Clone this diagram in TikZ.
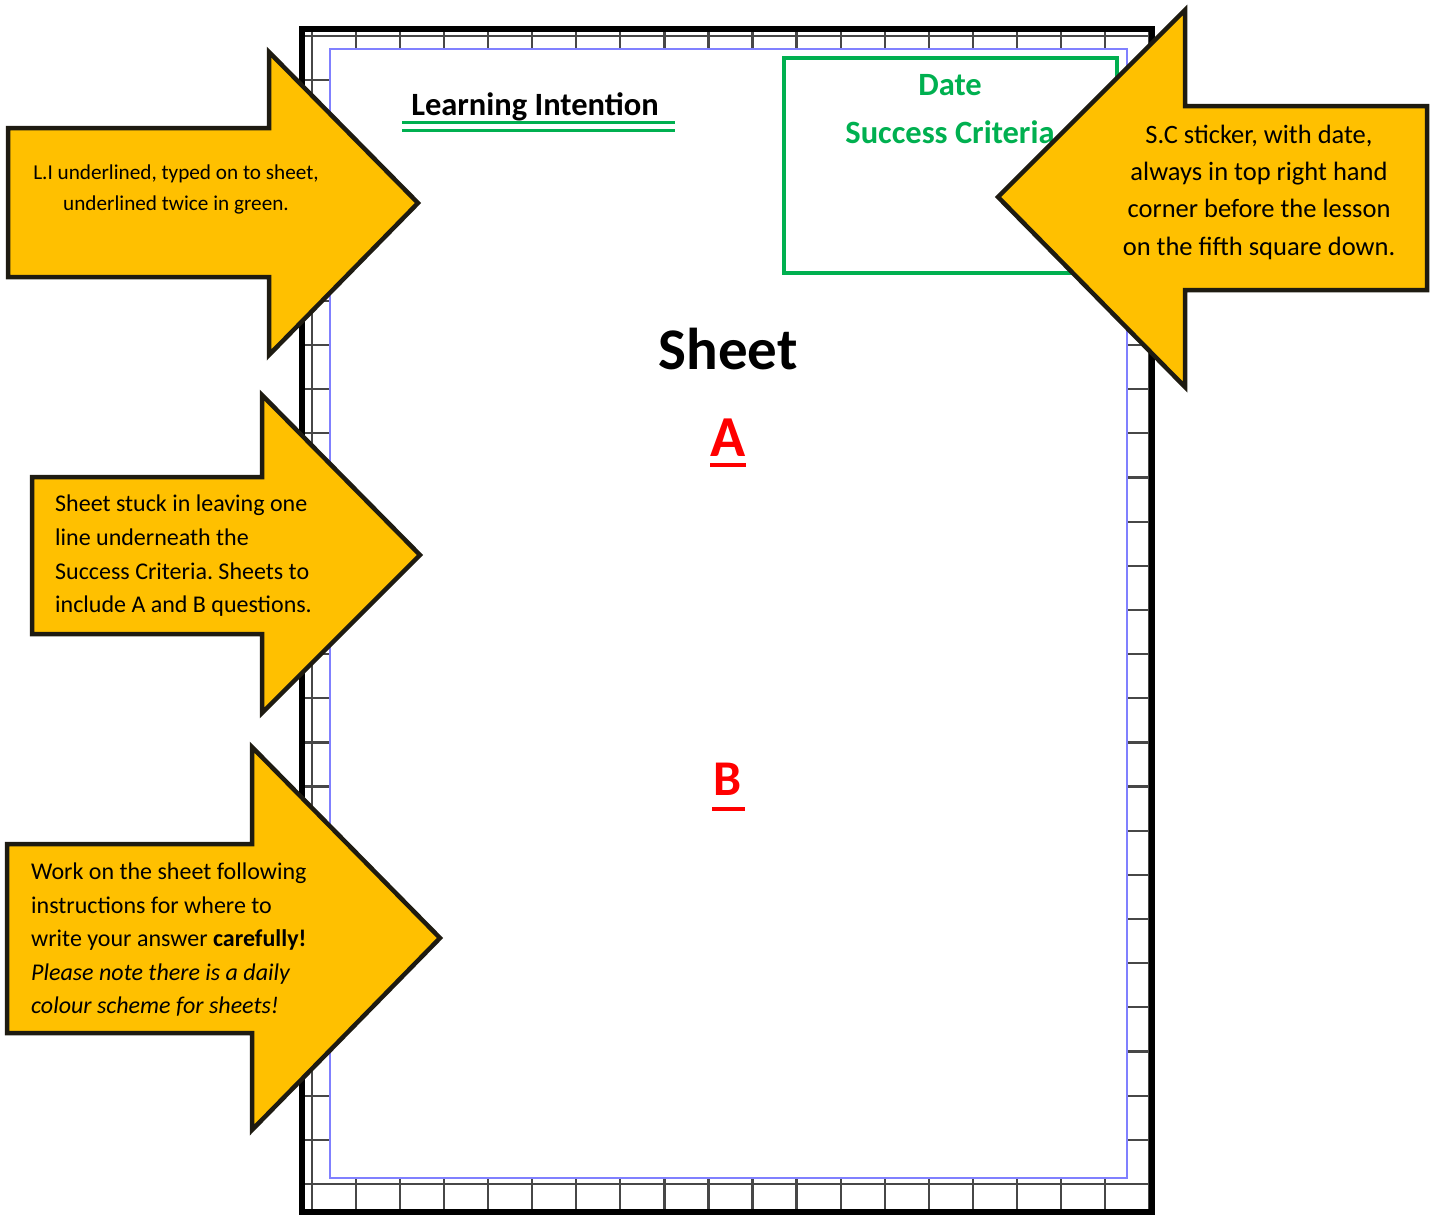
\documentclass[tikz,border=0pt]{standalone}
\usepackage{fontspec}
\setmainfont{Carlito}
\frenchspacing
\definecolor{arrowfill}{HTML}{FFC000}
\definecolor{arrowline}{HTML}{1E1B11}
\definecolor{scgreen}{RGB}{0,176,80}
\definecolor{marginblue}{RGB}{128,128,255}

\begin{document}
\begin{tikzpicture}[x=1pt,y=-1pt,
    callout/.style={fill=arrowfill,draw=arrowline,line width=4.5pt,line join=miter},
    calltext/.style={inner sep=0pt,text=black},
    gridline/.style={draw=black!72,line width=2.2pt},
    heading/.style={anchor=base,inner sep=0pt,font=\bfseries\fontsize{32.5}{32.5}\selectfont}]
    \useasboundingbox (0,0) rectangle (1438,1216);
    % squared page
    \begin{scope}
        \clip (302,29) rectangle (1152,1212);
        \foreach \i in {0,...,19}
            \draw[gridline] ({312+44.05*\i},29) -- ({312+44.05*\i},1212);
        \foreach \j in {0,...,26}
            \draw[gridline] (302,{36+44.15*\j}) -- (1152,{36+44.15*\j});
    \end{scope}
    \draw[marginblue,line width=2.2pt,fill=white] (330,49) rectangle (1127,1178);
    \draw[line width=6pt] (302,29) rectangle (1152,1212);
    % page contents
    \node[heading] (li) at (535,115) {Learning Intention};
    \draw[scgreen,line width=3pt] (402,122) -- (675,122);
    \draw[scgreen,line width=3pt] (402,130) -- (675,130);
    \draw[scgreen,line width=3.5pt] (784,58) rectangle (1117,273);
    \node[heading,text=scgreen] (date) at (950,95) {Date};
    \node[heading,text=scgreen] (sc) at (950,143) {Success Criteria};
    \node[heading,font=\bfseries\fontsize{59}{59}\selectfont] (sheet) at (728,369) {Sheet};
    \node[heading,text=red,font=\bfseries\fontsize{58}{58}\selectfont] (qa) at (728,456) {A};
    \draw[red,line width=3.5pt] (710,465) -- (746,465);
    \node[heading,text=red,font=\bfseries\fontsize{50}{50}\selectfont] (qb) at (728,795) {B};
    \draw[red,line width=3.5pt] (712,809) -- (745,809);
    % arrows
    \draw[callout] (8,128) -- (269,128) -- (269,52) -- (418,203) -- (269,355) -- (269,277) -- (8,277) -- cycle;
    \draw[callout] (1427,106) -- (1185,106) -- (1185,10) -- (998,197) -- (1185,387) -- (1185,290) -- (1427,290) -- cycle;
    \draw[callout] (32,477) -- (262,477) -- (262,395) -- (420,555) -- (262,713) -- (262,634) -- (32,634) -- cycle;
    \draw[callout] (7,844) -- (252,844) -- (252,747) -- (440,938) -- (252,1130) -- (252,1033) -- (7,1033) -- cycle;
    \node[calltext,align=center,font=\fontsize{21.2}{31}\selectfont] (li note) at (176,189)
        {L.I underlined, typed on to sheet,\\underlined twice in green.};
    \node[calltext,align=center,font=\fontsize{26.5}{37.3}\selectfont] (sc note) at (1259,192)
        {S.C sticker, with date,\\always in top right hand\\corner before the lesson\\on the fifth square down.};
    \node[calltext,align=left,anchor=west,font=\fontsize{24}{33.7}\selectfont] (sheet note) at (55,556)
        {Sheet stuck in leaving one\\line underneath the\\Success Criteria. Sheets to\\include A and B questions.};
    \node[calltext,align=left,anchor=west,font=\fontsize{24}{33.5}\selectfont] (work note) at (31,940)
        {Work on the sheet following\\instructions for where to\\write your answer \textbf{carefully!}\\\textit{Please note there is a daily}\\\textit{colour scheme for sheets!}};
\end{tikzpicture}
\end{document}
